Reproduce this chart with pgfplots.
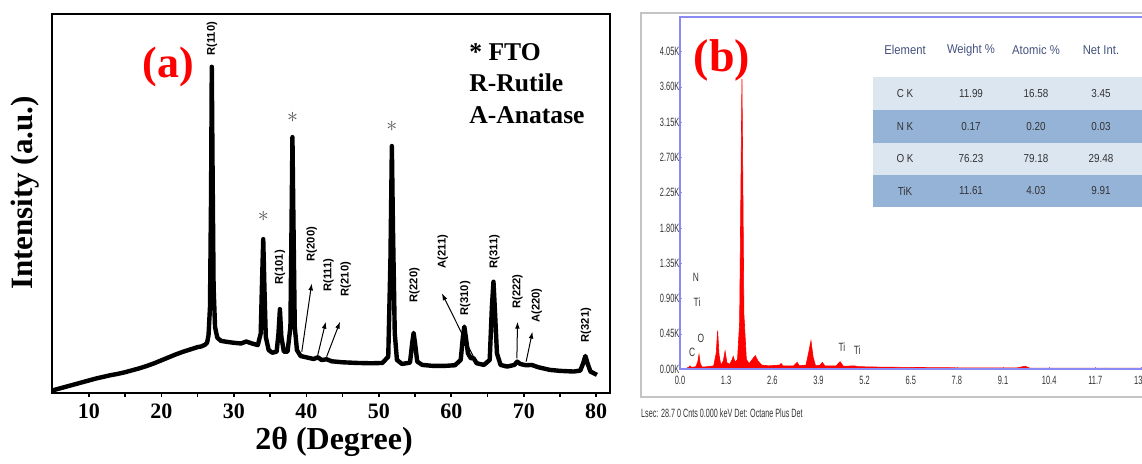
\documentclass[border=0pt]{standalone}
\usepackage{fontspec}
\setmainfont{Liberation Serif}
\newfontfamily\arial{Liberation Sans}
\usepackage{pgfplots}
\pgfplotsset{compat=1.18}
\usetikzlibrary{arrows.meta}

\definecolor{framegray}{HTML}{C4C4C4}
\definecolor{edsblue}{HTML}{8A8AF5}
\definecolor{rowlight}{HTML}{DCE6F1}
\definecolor{rowdark}{HTML}{95B3D7}
\definecolor{hdrtext}{HTML}{44527E}
\definecolor{txtgray}{HTML}{333333}

\newcommand{\pk}{\arial\bfseries\fontsize{5.6}{6}\selectfont}
\newcommand{\eds}{\arial\fontsize{6}{6}\selectfont}

\begin{document}
\begin{tikzpicture}
% ---- (a) XRD pattern
\begin{axis}[
  at={(26pt,35.5pt)}, anchor=south west,
  width=279pt, height=189.5pt, scale only axis,
  xmin=4.9, xmax=81.9, ymin=0, ymax=1148,
  xtick={10,20,...,80}, minor xtick={15,25,...,75},
  ytick=\empty,
  xtick pos=left, tick align=outside,
  major tick length=2pt, minor tick length=2pt,
  axis line style={line width=1pt},
  every tick/.style={black, line width=0.8pt},
  /pgf/number format/assume math mode=true,
  xticklabel style={font=\bfseries\fontsize{11}{11}\selectfont},
  clip=false,
]
\addplot[black, line width=2.2pt, line join=round] coordinates {
(5.0,8)(6,14)(7,20)(8,26)(9,32)(10,38)(11,44)(12,49)(13,54)(14,58)
(15,63)(16,69)(17,75)(18,82)(19,90)(20,99)(21,108)(22,117)(23,125)
(24,132)(25,139)(25.5,141)(26.0,146)(26.3,152)(26.5,175)(26.7,260)
(26.85,600)(26.95,988)(27.05,700)(27.2,320)(27.4,200)(27.7,168)
(28.2,158)(29,155)(30,152)(31,150)(31.7,156)(32.5,150)(33.3,145)
(33.7,180)(33.9,350)(34.05,466)(34.2,330)(34.4,170)(34.8,130)
(35.3,122)(35.9,125)(36.15,180)(36.35,254)(36.55,170)(36.9,125)
(37.4,125)(37.8,200)(37.95,500)(38.08,775)(38.2,550)(38.4,200)
(38.7,130)(39.2,112)(40,108)(41,103)(41.6,108)(42.1,100)(42.8,102)
(43.5,96)(45,93)(47,91)(49,90)(50.5,91)(51.3,110)(51.6,400)
(51.8,748)(51.95,500)(52.2,180)(52.5,100)(53.2,88)(54.3,92)
(54.6,150)(54.8,182)(55.0,150)(55.3,95)(56,85)(57.5,82)(59,82)
(60.5,84)(61.3,100)(61.6,170)(61.8,201)(62.0,170)(62.3,120)
(62.7,105)(63.06,106)(63.5,90)(64.5,85)(65.3,100)(65.6,260)
(65.82,337)(66.0,260)(66.3,120)(66.8,85)(67.7,80)(68.7,85)
(69.1,95)(69.5,88)(70.3,84)(71.1,85)(72,78)(73.6,70)(75,67)
(76.9,65)(77.8,68)(78.2,90)(78.5,112)(78.8,90)(79.2,65)(80.1,55)
};
\node[rotate=90, font=\pk] at (axis cs:26.98,1073) {R(110)};
\node[rotate=90, font=\pk] at (axis cs:36.37,381) {R(101)};
\node[rotate=90, font=\pk] at (axis cs:40.74,451) {R(200)};
\node[rotate=90, font=\pk] at (axis cs:43.04,357) {R(111)};
\node[rotate=90, font=\pk] at (axis cs:45.44,345) {R(210)};
\node[rotate=90, font=\pk] at (axis cs:54.92,327) {R(220)};
\node[rotate=90, font=\pk] at (axis cs:58.83,428) {A(211)};
\node[rotate=90, font=\pk] at (axis cs:61.91,287) {R(310)};
\node[rotate=90, font=\pk] at (axis cs:65.96,428) {R(311)};
\node[rotate=90, font=\pk] at (axis cs:69.14,307) {R(222)};
\node[rotate=90, font=\pk] at (axis cs:71.8,265) {A(220)};
\node[rotate=90, font=\pk] at (axis cs:78.57,206) {R(321)};
\node[text=black!65, font=\fontsize{11}{11}\selectfont] at (axis cs:34.07,536) {$\ast$};
\node[text=black!65, font=\fontsize{11}{11}\selectfont] at (axis cs:38.1,835) {$\ast$};
\node[text=black!65, font=\fontsize{11}{11}\selectfont] at (axis cs:51.8,807) {$\ast$};
\draw[line width=0.5pt, -{Latex[length=3.5pt,width=2.4pt]}] (axis cs:39.37,125) -- (axis cs:40.74,332);
\draw[line width=0.5pt, -{Latex[length=3.5pt,width=2.4pt]}] (axis cs:41.52,110) -- (axis cs:42.68,216);
\draw[line width=0.5pt, -{Latex[length=3.5pt,width=2.4pt]}] (axis cs:42.8,110) -- (axis cs:44.65,216);
\draw[line width=0.5pt, -{Latex[length=3.5pt,width=2.4pt]}] (axis cs:63.06,110) -- (axis cs:58.7,302);
\draw[line width=0.5pt, -{Latex[length=3.5pt,width=2.4pt]}] (axis cs:69.05,105) -- (axis cs:69.14,216);
\draw[line width=0.5pt, -{Latex[length=3.5pt,width=2.4pt]}] (axis cs:70.33,95) -- (axis cs:71.2,186);
\end{axis}
\node[rotate=90, font=\bfseries\fontsize{15.5}{15.5}\selectfont] at (12.5pt,135.5pt) {Intensity (a.u.)};
\node[anchor=base, font=\bfseries\fontsize{16}{16}\selectfont] at (167pt,7pt) {2θ (Degree)};
\node[text=red, font=\bfseries\fontsize{22}{22}\selectfont] at (84pt,198.5pt) {(a)};
\node[anchor=base west, inner sep=0pt, font=\bfseries\fontsize{12.8}{12.8}\selectfont] at (234.5pt,201.75pt) {* FTO};
\node[anchor=base west, inner sep=0pt, font=\bfseries\fontsize{12.8}{12.8}\selectfont] at (234.5pt,186.25pt) {R-Rutile};
\node[anchor=base west, inner sep=0pt, font=\bfseries\fontsize{12.8}{12.8}\selectfont] at (234.5pt,170.25pt) {A-Anatase};

% ---- (b) EDS spectrum
\draw[framegray, line width=1pt] (320.5pt,33.5pt) rectangle (600pt,225.5pt);
\begin{axis}[
  at={(340pt,47.5pt)}, anchor=south west,
  width=239.6pt, height=176pt, scale only axis,
  xmin=0, xmax=13.5, ymin=0, ymax=4.49,
  xtick={0,1.3,2.6,3.9,5.2,6.5,7.8,9.1,10.4,11.7,13},
  xticklabels={0.0,1.3,2.6,3.9,5.2,6.5,7.8,9.1,10.4,11.7,13.0},
  ytick={0,0.45,0.9,1.35,1.8,2.25,2.7,3.15,3.6,4.05},
  yticklabels={0.00K,0.45K,0.90K,1.35K,1.80K,2.25K,2.70K,3.15K,3.60K,4.05K},
  xtick pos=left, ytick pos=left,
  axis line style={draw=edsblue, line width=0.7pt},
  major tick length=1.2pt, tick style={edsblue},
  ticklabel style={font=\eds, text=txtgray, xscale=0.62},
  yticklabel style={inner sep=0.3pt},
]
\addplot[fill=red, draw=red, line width=0.3pt] coordinates {
(0.18,0)(0.2,0.015)(0.25,0.02)(0.28,0.04)(0.33,0.02)(0.45,0.03)
(0.5,0.09)(0.535,0.184)(0.57,0.07)(0.62,0.025)(0.8,0.03)(0.95,0.04)
(1.02,0.2)(1.06,0.49)(1.1,0.18)(1.15,0.05)(1.22,0.1)(1.27,0.23)
(1.32,0.08)(1.4,0.06)(1.47,0.12)(1.5,0.16)(1.55,0.09)(1.62,0.12)
(1.68,0.6)(1.72,2.5)(1.745,3.7)(1.77,2.4)(1.8,0.7)(1.87,0.12)
(1.95,0.07)(2.05,0.13)(2.12,0.17)(2.2,0.1)(2.3,0.05)(2.5,0.04)
(2.8,0.05)(2.85,0.07)(2.9,0.04)(3.2,0.04)(3.3,0.085)(3.36,0.04)
(3.55,0.05)(3.62,0.2)(3.69,0.36)(3.75,0.15)(3.82,0.04)(3.95,0.05)
(4.01,0.085)(4.08,0.04)(4.4,0.04)(4.51,0.094)(4.6,0.035)(4.93,0.04)
(5.0,0.03)(5.5,0.025)(6.5,0.02)(7.8,0.015)(9.5,0.015)(9.72,0.035)
(9.85,0.012)(11.0,0.01)(12.0,0.012)(13.5,0.01)
} \closedcycle;
\draw[edsblue, line width=1.3pt] (rel axis cs:0,0) -- (rel axis cs:1,0);
\node[font=\eds, text=txtgray, xscale=0.7] at (axis cs:0.34,0.217) {C};
\node[font=\eds, text=txtgray, xscale=0.7] at (axis cs:0.59,0.395) {O};
\node[font=\eds, text=txtgray, xscale=0.7] at (axis cs:0.45,1.17) {N};
\node[font=\eds, text=txtgray, xscale=0.7] at (axis cs:0.48,0.854) {Ti};
\node[font=\eds, text=txtgray, xscale=0.7] at (axis cs:4.56,0.28) {Ti};
\node[font=\eds, text=txtgray, xscale=0.7] at (axis cs:4.99,0.242) {Ti};
\end{axis}
\node[text=red, font=\bfseries\fontsize{23}{23}\selectfont] at (361pt,202pt) {(b)};
% composition table
\fill[rowlight] (436.5pt,177pt) rectangle (600pt,193.5pt);
\fill[rowdark] (436.5pt,160.5pt) rectangle (600pt,177pt);
\fill[rowlight] (436.5pt,144.5pt) rectangle (600pt,160.5pt);
\fill[rowdark] (436.5pt,128.5pt) rectangle (600pt,144.5pt);
\begin{scope}[every node/.style={font=\arial\fontsize{6.4}{6.4}\selectfont, text=hdrtext, xscale=0.88}]
\node at (452.5pt,207pt) {Element};
\node at (485.5pt,207pt) {Weight \%};
\node at (518pt,207pt) {Atomic \%};
\node at (550.5pt,207pt) {Net Int.};
\end{scope}
\begin{scope}[every node/.style={font=\arial\fontsize{5.8}{5.8}\selectfont, text=txtgray, xscale=0.85}]
\node at (452.5pt,185.25pt) {C K}; \node at (485.5pt,185.25pt) {11.99}; \node at (518pt,185.25pt) {16.58}; \node at (550.5pt,185.25pt) {3.45};
\node at (452.5pt,168.75pt) {N K}; \node at (485.5pt,168.75pt) {0.17}; \node at (518pt,168.75pt) {0.20}; \node at (550.5pt,168.75pt) {0.03};
\node at (452.5pt,152.5pt) {O K}; \node at (485.5pt,152.5pt) {76.23}; \node at (518pt,152.5pt) {79.18}; \node at (550.5pt,152.5pt) {29.48};
\node at (452.5pt,136.5pt) {TiK}; \node at (485.5pt,136.5pt) {11.61}; \node at (518pt,136.5pt) {4.03}; \node at (550.5pt,136.5pt) {9.91};
\end{scope}
\node[anchor=west, inner sep=0pt, font=\eds, text=txtgray, xscale=0.6] at (320.5pt,25.5pt) {Lsec: 28.7 0 Cnts 0.000 keV Det: Octane Plus Det};
\pgfresetboundingbox
\useasboundingbox (0pt,0pt) rectangle (571pt,232pt);
\end{tikzpicture}
\end{document}
